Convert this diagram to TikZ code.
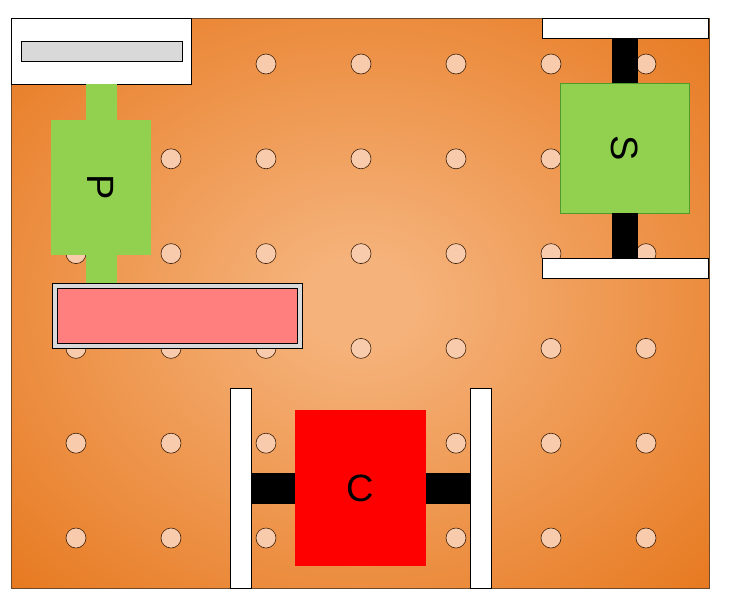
\documentclass[tikz,border=0pt]{standalone}
\usepackage{fontspec}
\setmainfont{Liberation Sans}
\usepackage{tikz}
\usetikzlibrary{
  positioning,
  calc
}
\definecolor{BoardLight}{HTML}{F5B27A}
\definecolor{BoardDark}{HTML}{E36A08}
\definecolor{BoardEdge}{HTML}{6B4A2E}
\definecolor{HoleBeige}{HTML}{F8CBAD}
\definecolor{HoleEdge}{HTML}{3D1F08}
\definecolor{PartGreen}{HTML}{92D050}
\definecolor{GreenEdge}{HTML}{4E9A2A}
\definecolor{TrayPink}{HTML}{FF7F7F}
\definecolor{TrayGray}{HTML}{D9D9D9}
\pgfdeclareradialshading{boardglow}{\pgfpoint{0bp}{0bp}}{%
  color(0bp)=(BoardLight); color(4bp)=(BoardLight);
  color(44bp)=(BoardDark); color(72bp)=(BoardDark)}

\begin{document}
\begin{tikzpicture}[
  x=1pt,y=-1pt,
  box/.style={
    draw=black,
    line width=0.8pt,
    inner sep=0pt,
    outer sep=0pt
  },
  rail/.style={box,fill=white},
  hole/.style={circle,draw=HoleEdge,fill=HoleBeige,line width=0.6pt,
    minimum size=20pt,inner sep=0pt},
  part/.style={inner sep=0pt,outer sep=0pt},
  letter/.style={font=\fontsize{38}{38}\selectfont,text=black,rotate=-90}
]
\useasboundingbox (0,0) rectangle (734,606);

% Board with its grid of holes.
\node[box,draw=BoardEdge,shading=boardglow,
  minimum width=698pt,minimum height=570pt] (board) at (360,303) {};
\foreach \i in {0,...,6}{
  \foreach \j in {0,...,5}{
    \node[hole] (h\i\j) at (76+95*\i,64+94.8*\j) {};
  }
}

% Top-left panel with its slot.
\node[rail,minimum width=180pt,minimum height=66pt] (panel) at (101,51) {};
\node[box,fill=TrayGray,minimum width=161pt,minimum height=20pt]
  (slot) at (101.5,51) {};

% P module on its stem, over the tray.
\node[box,fill=TrayGray,minimum width=250pt,minimum height=65pt]
  (tray) at (177,315.8) {};
\node[box,fill=TrayPink,minimum width=240pt,minimum height=55pt]
  (trayin) at (tray) {};
\fill[PartGreen] ([xshift=-15.5pt]panel.south -| 101,0) rectangle
  ([xshift=15.5pt,yshift=0.4pt]tray.north -| 101,0);
\node[part,fill=PartGreen,minimum width=100pt,minimum height=135pt]
  (pmod) at (101,187.5) {};
\node[letter] at (pmod) {P};

% S module between two rails.
\node[rail,minimum width=166pt,minimum height=20pt] (srailtop) at (625,28) {};
\node[rail,minimum width=166pt,minimum height=20pt] (srailbot) at (625,268) {};
\node[part,draw=GreenEdge,line width=0.8pt,fill=PartGreen,
  minimum width=129pt,minimum height=130pt] (smod) at (624.5,148) {};
\fill[black] ([xshift=-13pt]smod.north |- srailtop.south) rectangle
  ([xshift=13pt]smod.north);
\fill[black] ([xshift=-13pt]smod.south) rectangle
  ([xshift=13pt]smod.south |- srailbot.north);
\node[letter] at (smod) {S};

% C module between two rails.
\node[rail,minimum width=21pt,minimum height=200pt] (crailleft) at (240.5,488) {};
\node[rail,minimum width=21pt,minimum height=200pt] (crailright) at (480.5,488) {};
\node[part,fill=red,minimum width=131pt,minimum height=156pt]
  (cmod) at (360.5,488) {};
\fill[black] (crailleft.east |- 0,473) rectangle (cmod.west |- 0,504);
\fill[black] (cmod.east |- 0,473) rectangle (crailright.west |- 0,504);
\node[letter,rotate=90] at (cmod) {C};
\end{tikzpicture}
\end{document}
